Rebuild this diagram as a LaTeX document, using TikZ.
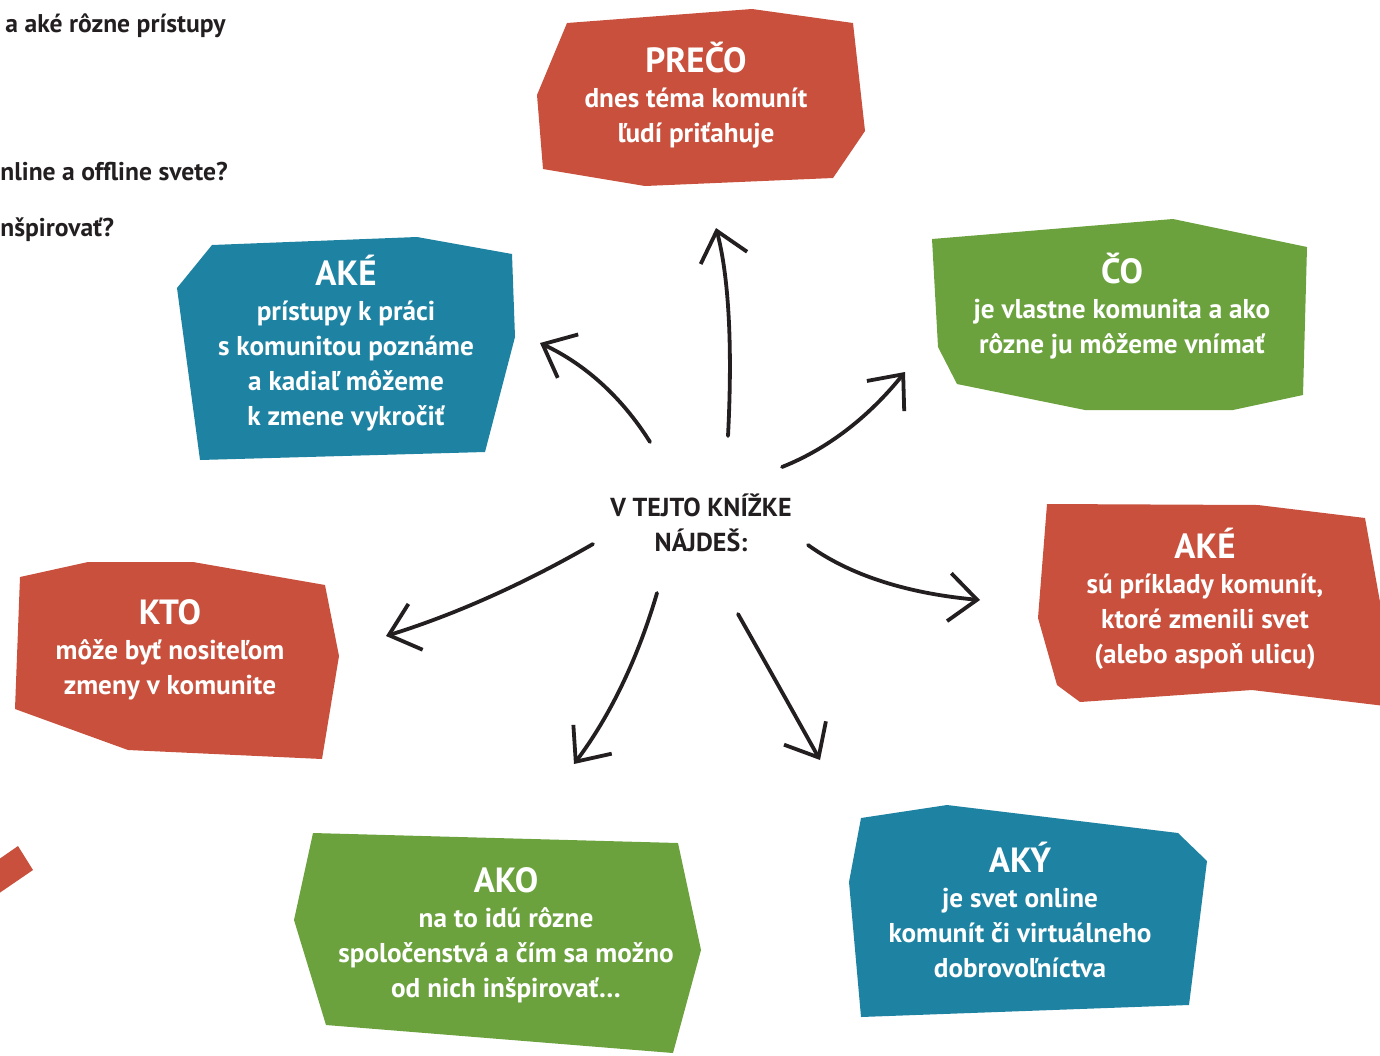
\documentclass[tikz,border=0pt]{standalone}
\usepackage{fontspec}
\setmainfont{PT Sans}
\usetikzlibrary{positioning,calc,arrows.meta}

\definecolor{kred}{HTML}{C8503C}
\definecolor{kblue}{HTML}{1E83A2}
\definecolor{kgreen}{HTML}{6CA23E}
\definecolor{ink}{HTML}{231F20}
\newcommand{\headword}[1]{{\fontsize{17.5}{17.5}\selectfont #1}}

\begin{document}
\begin{tikzpicture}[
    x=0.5pt, y=-0.5pt,
    shard/.style={fill=#1, draw=none},
    boxtext/.style={text=white, font=\bfseries\fontsize{13.6}{17.5}\selectfont, align=center, inner sep=0pt, anchor=base},
    hubtext/.style={text=ink, font=\bfseries\fontsize{13}{17.5}\selectfont, align=center, inner sep=0pt, anchor=base},
    margintext/.style={text=ink, font=\bfseries\fontsize{12.8}{17.5}\selectfont, inner sep=0pt, anchor=base west},
    pointer/.style={draw=ink, line width=1.9pt, line cap=round, line join=round, -{Straight Barb[length=14pt, width=24pt]}}
]
\useasboundingbox (0,0) rectangle (1380,1055);
\clip (0,0) rectangle (1380,1055);

% Text cut off at the left margin
\node[margintext] (line1) at (5,32) {a aké rôzne prístupy};
\node[margintext] (line2) at (0,180) {nline a offline svete?};
\node[margintext] (line3) at (0,236) {nšpirovať?};

% Coloured shards
\fill[shard=kred] (567,23) -- (752,9) -- (853,23) -- (865,131) -- (833,178) -- (645,186) -- (543,169) -- (537,95) -- cycle;
\fill[shard=kblue] (212,245) -- (417,237) -- (512,254) -- (515,337) -- (485,452) -- (200,460) -- (177,288) -- cycle;
\fill[shard=kgreen] (932,239) -- (1173,219) -- (1307,247) -- (1303,395) -- (1233,410) -- (1085,410) -- (957,384) -- (938,347) -- cycle;
\fill[shard=kred] (20,577) -- (88,562) -- (193,562) -- (325,585) -- (339,656) -- (322,759) -- (128,750) -- (15,709) -- cycle;
\fill[shard=kred] (1047,504) -- (1258,505) -- (1365,518) -- (1385,630) -- (1385,706) -- (1252,690) -- (1080,702) -- (1057,685) -- (1038,618) -- cycle;
\fill[shard=kgreen] (313,833) -- (678,843) -- (701,950) -- (673,1053) -- (326,1025) -- (294,920) -- cycle;
\fill[shard=kblue] (861,818) -- (947,805) -- (1178,833) -- (1207,861) -- (1189,1005) -- (861,1017) -- (849,882) -- cycle;
\fill[shard=kred] (-5,862) -- (18,846) -- (33,870) -- (-5,896) -- cycle;

% Texts in the shards (placed by the baseline of the last line)
\node[boxtext] (preco) at (696,142) {\headword{PREČO}\\dnes téma komunít\\ľudí priťahuje};
\node[boxtext] (akeblue) at (346,425) {\headword{AKÉ}\\prístupy k práci\\s komunitou poznáme\\a kadiaľ môžeme\\k zmene vykročiť};
\node[boxtext] (co) at (1122,353) {\headword{ČO}\\je vlastne komunita a ako\\rôzne ju môžeme vnímať};
\node[boxtext] (kto) at (170,694) {\headword{KTO}\\môže byť nositeľom\\zmeny v komunite};
\node[boxtext] (akered) at (1205,663) {\headword{AKÉ}\\sú príklady komunít,\\ktoré zmenili svet\\(alebo aspoň ulicu)};
\node[boxtext] (ako) at (506,997) {\headword{AKO}\\na to idú rôzne\\spoločenstvá a čím sa možno\\od nich inšpirovať\dots};
\node[boxtext] (aky) at (1020,977) {\headword{AKÝ}\\je svet online\\komunít či virtuálneho\\dobrovoľníctva};

% Centre
\node[hubtext] (hub) at (701,551) {V TEJTO KNÍŽKE\\NÁJDEŠ:};

% Arrow ends and bend points
\coordinate (s-preco) at (728,436);   \coordinate (e-preco) at (716,228);   \coordinate (c-preco) at (735,300);
\coordinate (s-akeblue) at (650,442); \coordinate (e-akeblue) at (540,343); \coordinate (c-akeblue) at (608,375);
\coordinate (s-co) at (782,467);      \coordinate (e-co) at (905,372);      \coordinate (c-co) at (850,440);
\coordinate (s-kto) at (593,544);     \coordinate (e-kto) at (386,636);     \coordinate (c-kto) at (489,604);
\coordinate (s-ako) at (657,593);     \coordinate (e-ako) at (574,764);     \coordinate (c-ako) at (628,692);
\coordinate (s-aky) at (738,614);     \coordinate (e-aky) at (820,760);     \coordinate (c-aky) at (781,690);
\coordinate (s-akered) at (808,545);  \coordinate (e-akered) at (980,600);  \coordinate (c-akered) at (870,590);

% Arrows
\foreach \k in {preco,akeblue,co,kto,ako,aky,akered}
  \draw[pointer] (s-\k) .. controls ($(s-\k)!0.667!(c-\k)$) and ($(e-\k)!0.667!(c-\k)$) .. (e-\k);

\end{tikzpicture}
\end{document}
